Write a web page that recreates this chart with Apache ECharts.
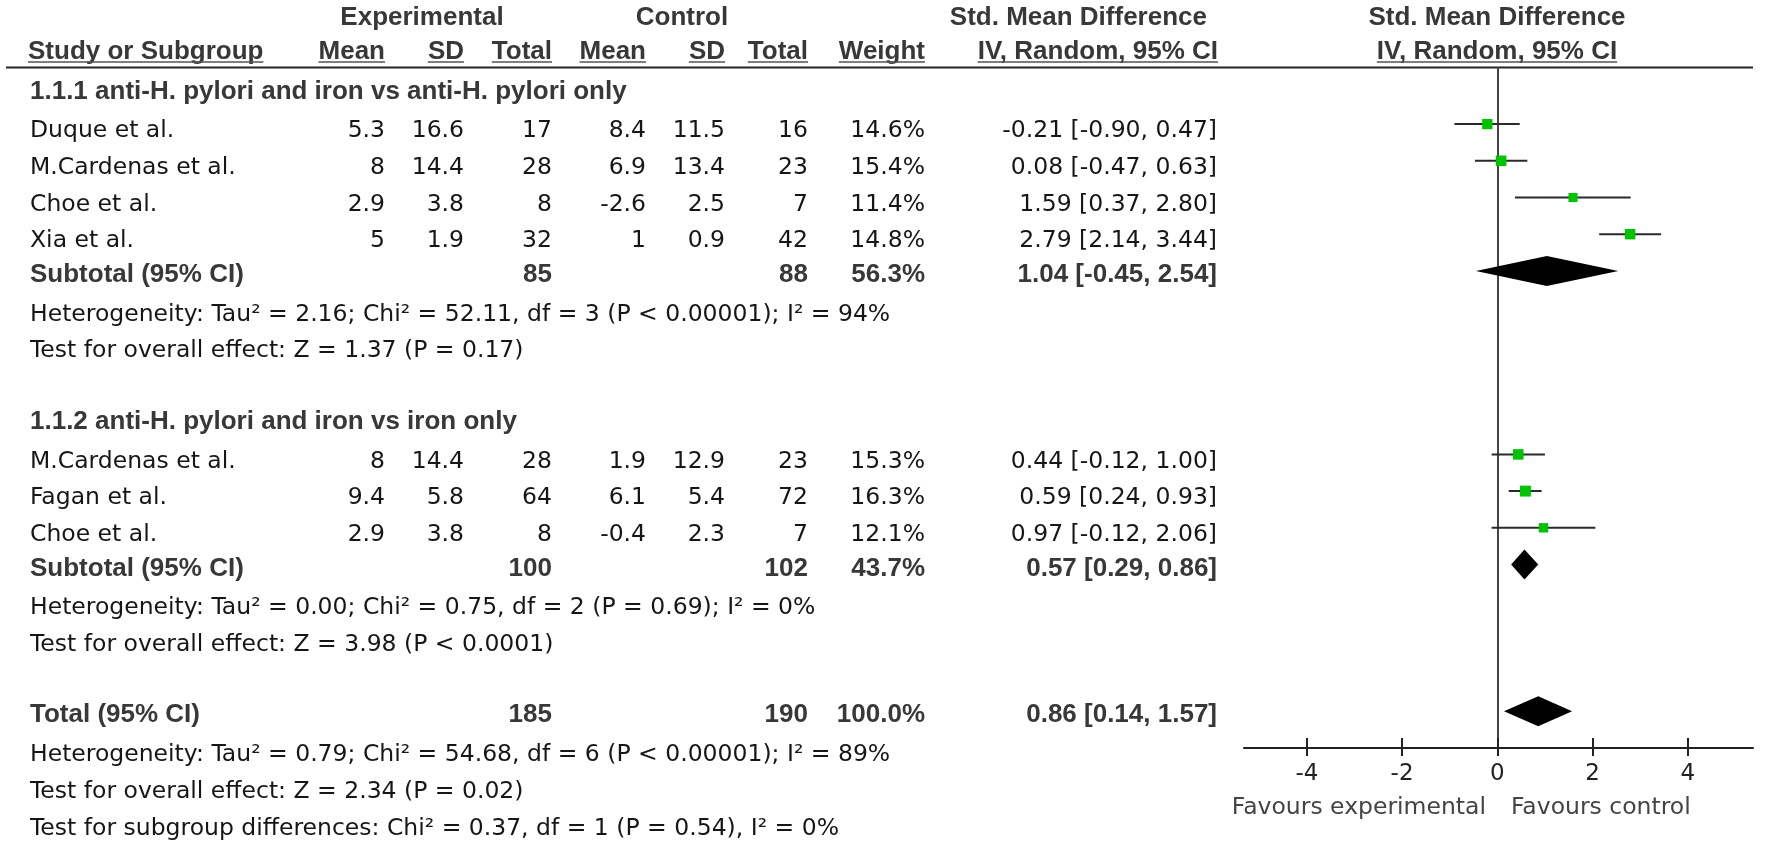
<!DOCTYPE html>
<html>
<head>
<meta charset="utf-8">
<script src="https://cdn.jsdelivr.net/npm/echarts@6/dist/echarts.min.js"></script>
<style>
  html, body { margin: 0; padding: 0; background: #fff; }
  #chart { width: 1783px; height: 845px; }
</style>
</head>
<body>
<div id="chart"></div>
<script>
// studies
const studyNames = ['Duque et al.', 'M.Cardenas et al.', 'Choe et al.', 'Xia et al.',
    'M.Cardenas et al.', 'Fagan et al.', 'Choe et al.'];
const studyRow = [3, 4, 5, 6, 12, 13, 14];
const expMean = ['5.3', '8', '2.9', '5', '8', '9.4', '2.9'];
const expSD = ['16.6', '14.4', '3.8', '1.9', '14.4', '5.8', '3.8'];
const expTotal = [17, 28, 8, 32, 28, 64, 8];
const ctlMean = ['8.4', '6.9', '-2.6', '1', '1.9', '6.1', '-0.4'];
const ctlSD = ['11.5', '13.4', '2.5', '0.9', '12.9', '5.4', '2.3'];
const ctlTotal = [16, 23, 7, 42, 23, 72, 7];
const weights = [14.6, 15.4, 11.4, 14.8, 15.3, 16.3, 12.1];
const smd = [-0.21, 0.08, 1.59, 2.79, 0.44, 0.59, 0.97];
const ciLow = [-0.90, -0.47, 0.37, 2.14, -0.12, 0.24, -0.12];
const ciHigh = [0.47, 0.63, 2.80, 3.44, 1.00, 0.93, 2.06];

// pooled rows
const pooledLabels = ['Subtotal (95% CI)', 'Subtotal (95% CI)', 'Total (95% CI)'];
const pooledRow = [7, 15, 19];
const pooledExpTotal = [85, 100, 185];
const pooledCtlTotal = [88, 102, 190];
const pooledWeight = ['56.3%', '43.7%', '100.0%'];
const pooledSmd = [1.04, 0.57, 0.86];
const pooledLow = [-0.45, 0.29, 0.14];
const pooledHigh = [2.54, 0.86, 1.57];

// section headers and notes
const sectionLabels = ['1.1.1 anti-H. pylori and iron vs anti-H. pylori only',
    '1.1.2 anti-H. pylori and iron vs iron only'];
const sectionRow = [2, 11];
const noteLabels = [
    'Heterogeneity: Tau² = 2.16; Chi² = 52.11, df = 3 (P < 0.00001); I² = 94%',
    'Test for overall effect: Z = 1.37 (P = 0.17)',
    'Heterogeneity: Tau² = 0.00; Chi² = 0.75, df = 2 (P = 0.69); I² = 0%',
    'Test for overall effect: Z = 3.98 (P < 0.0001)',
    'Heterogeneity: Tau² = 0.79; Chi² = 54.68, df = 6 (P < 0.00001); I² = 89%',
    'Test for overall effect: Z = 2.34 (P = 0.02)',
    'Test for subgroup differences: Chi² = 0.37, df = 1 (P = 0.54), I² = 0%'
];
const noteRow = [8, 9, 16, 17, 20, 21, 22];

const tickValues = [-4, -2, 0, 2, 4];

const fontReg = '23.5px "DejaVu Sans"';
const fontBold = 'bold 26px "Liberation Sans"';
const colReg = '#161616';
const colBold = '#383838';

const measureCtx = document.createElement('canvas').getContext('2d');
function textWidth(str, font) {
    measureCtx.font = font;
    return measureCtx.measureText(str).width;
}

function fmt2(v) { return v.toFixed(2); }
function ciText(m, lo, hi) { return fmt2(m) + ' [' + fmt2(lo) + ', ' + fmt2(hi) + ']'; }

const chart = echarts.init(document.getElementById('chart'), null, { renderer: 'canvas' });

const studyData = smd.map((m, i) => [m, studyRow[i], ciLow[i], ciHigh[i], weights[i]]);
const pooledData = pooledSmd.map((m, i) => [m, pooledRow[i], pooledLow[i], pooledHigh[i]]);

chart.setOption({
    animation: false,
    backgroundColor: '#fff',
    grid: { left: 1244, width: 509, top: 68, height: 680 },
    xAxis: [
        {
            type: 'value', min: -5.32, max: 5.37, position: 'bottom',
            axisLine: { onZero: false, lineStyle: { color: '#222', width: 2 } },
            axisTick: { inside: true, length: 10, customValues: tickValues, lineStyle: { color: '#222', width: 2 } },
            axisLabel: { customValues: tickValues, margin: 15, color: '#222', fontFamily: 'DejaVu Sans', fontSize: 23 },
            splitLine: { show: false }
        },
        {
            type: 'value', min: -5.32, max: 5.37, position: 'bottom',
            axisLine: { show: false, onZero: false },
            axisTick: { inside: false, length: 8, customValues: tickValues, lineStyle: { color: '#222', width: 2 } },
            axisLabel: { show: false },
            splitLine: { show: false }
        }
    ],
    yAxis: {
        type: 'value', inverse: true, min: 1.4714, max: 20,
        axisLine: { show: true, onZero: true, lineStyle: { color: '#444', width: 2 } },
        axisTick: { show: false }, axisLabel: { show: false }, splitLine: { show: false }
    },
    series: [
        {
            type: 'custom', clip: false,
            data: studyData,
            renderItem: function (params, api) {
                const row = api.value(1);
                const c = api.coord([api.value(0), row]);
                const lo = api.coord([api.value(2), row]);
                const hi = api.coord([api.value(3), row]);
                const s = 2.7 * Math.sqrt(api.value(4));
                return {
                    type: 'group',
                    children: [
                        { type: 'line', shape: { x1: lo[0], y1: lo[1], x2: hi[0], y2: hi[1] },
                          style: { stroke: '#2a2a2a', lineWidth: 2 } },
                        { type: 'rect', shape: { x: c[0] - s / 2, y: c[1] - s / 2, width: s, height: s },
                          style: { fill: '#00c400' } }
                    ]
                };
            }
        },
        {
            type: 'custom', clip: false,
            data: pooledData,
            renderItem: function (params, api) {
                const row = api.value(1);
                const c = api.coord([api.value(0), row]);
                const lo = api.coord([api.value(2), row]);
                const hi = api.coord([api.value(3), row]);
                return {
                    type: 'polygon',
                    shape: { points: [[lo[0], lo[1]], [c[0], c[1] - 15], [hi[0], hi[1]], [c[0], c[1] + 15]] },
                    style: { fill: '#000' }
                };
            }
        }
    ]
});

// table text, rows positioned via the y scale
function rowY(r) { return chart.convertToPixel({ yAxisIndex: 0 }, r) + 7; }
const g = [];
function txt(str, x, y, align, bold, color) {
    g.push({
        type: 'text', silent: true,
        style: { text: str, x: x, y: y, align: align, verticalAlign: 'middle',
                 font: bold ? fontBold : fontReg, fill: color || (bold ? colBold : colReg) }
    });
}
function underline(str, x, y, align, font) {
    const w = textWidth(str, font);
    const x0 = align === 'right' ? x - w : (align === 'center' ? x - w / 2 : x);
    g.push({ type: 'line', silent: true, shape: { x1: x0, y1: y, x2: x0 + w, y2: y },
             style: { stroke: '#555', lineWidth: 1.5 } });
}

const colX = { name: 28, eMean: 385, eSD: 464, eTot: 552, cMean: 646, cSD: 725, cTot: 808, w: 925, ci: 1217, plot: 1497 };

// header rows
txt('Experimental', 422, 18, 'center', true);
txt('Control', 682, 18, 'center', true);
txt('Std. Mean Difference', 1207, 18, 'right', true);
txt('Std. Mean Difference', 1497, 18, 'center', true);
const headY = 52;
const headers = [['Study or Subgroup', colX.name, 'left'], ['Mean', colX.eMean, 'right'], ['SD', colX.eSD, 'right'],
    ['Total', colX.eTot, 'right'], ['Mean', colX.cMean, 'right'], ['SD', colX.cSD, 'right'],
    ['Total', colX.cTot, 'right'], ['Weight', colX.w, 'right'], ['IV, Random, 95% CI', 1218, 'right'],
    ['IV, Random, 95% CI', colX.plot, 'center']];
headers.forEach(h => {
    txt(h[0], h[1], headY, h[2], true);
    underline(h[0], h[1], 62, h[2], fontBold);
});
g.push({ type: 'line', silent: true, shape: { x1: 6, y1: 67.5, x2: 1753, y2: 67.5 },
         style: { stroke: '#222', lineWidth: 2 } });

sectionLabels.forEach((s, i) => txt(s, 30, rowY(sectionRow[i]) - 3, 'left', true));

studyNames.forEach((n, i) => {
    const y = rowY(studyRow[i]);
    txt(n, 30, y, 'left');
    txt(expMean[i], colX.eMean, y, 'right');
    txt(expSD[i], colX.eSD, y, 'right');
    txt(String(expTotal[i]), colX.eTot, y, 'right');
    txt(ctlMean[i], colX.cMean, y, 'right');
    txt(ctlSD[i], colX.cSD, y, 'right');
    txt(String(ctlTotal[i]), colX.cTot, y, 'right');
    txt(weights[i].toFixed(1) + '%', colX.w, y, 'right');
    txt(ciText(smd[i], ciLow[i], ciHigh[i]), colX.ci, y, 'right');
});

pooledLabels.forEach((n, i) => {
    const y = rowY(pooledRow[i]) - 3;
    txt(n, 30, y, 'left', true);
    txt(String(pooledExpTotal[i]), colX.eTot, y, 'right', true);
    txt(String(pooledCtlTotal[i]), colX.cTot, y, 'right', true);
    txt(pooledWeight[i], colX.w, y, 'right', true);
    txt(ciText(pooledSmd[i], pooledLow[i], pooledHigh[i]), colX.ci, y, 'right', true);
});

noteLabels.forEach((n, i) => txt(n, 30, rowY(noteRow[i]), 'left'));

// axis captions
txt('Favours experimental', colX.plot - 11, 808, 'right', false, '#444');
txt('Favours control', colX.plot + 14, 808, 'left', false, '#444');

chart.setOption({ graphic: { elements: g } });
</script>
</body>
</html>
